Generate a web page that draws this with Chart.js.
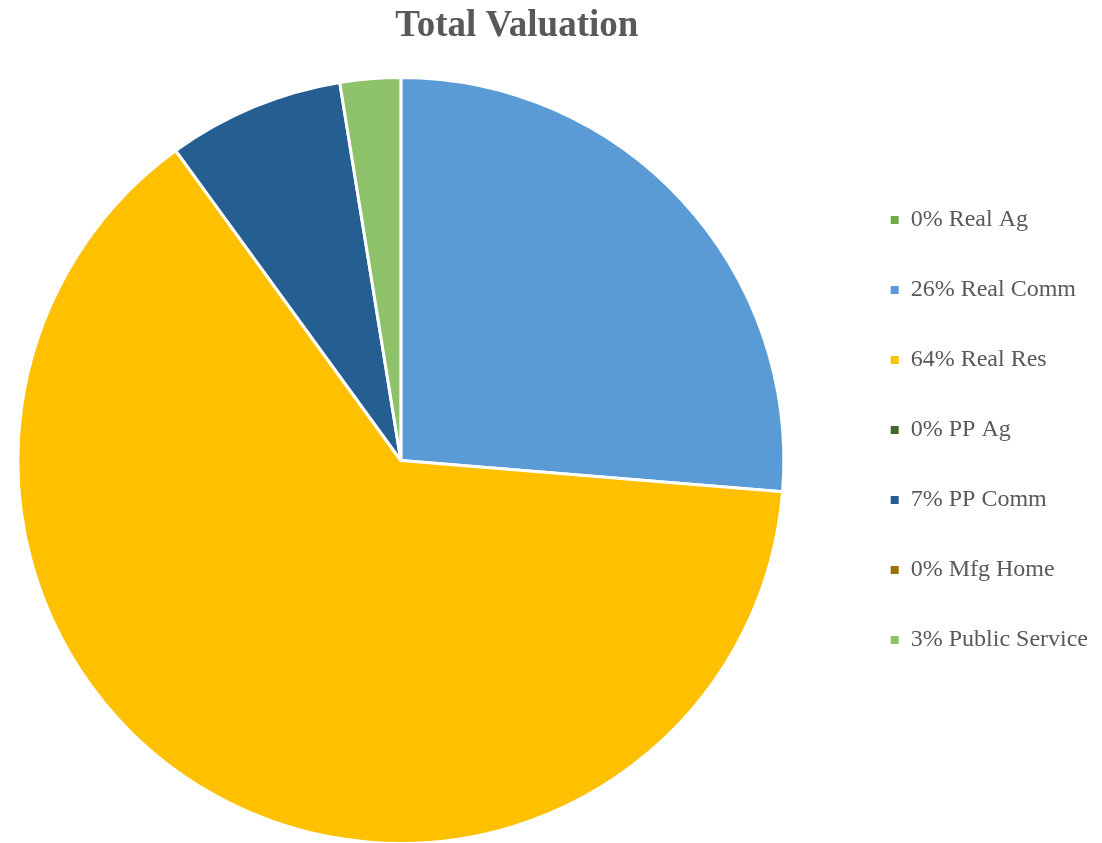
<!DOCTYPE html>
<html>
<head>
<meta charset="utf-8">
<title>Total Valuation</title>
<script src="https://cdn.jsdelivr.net/npm/chart.js@4/dist/chart.umd.min.js"></script>
<style>
  html, body { margin: 0; padding: 0; background: #ffffff; }
  #wrap { position: relative; width: 1102px; height: 843px; }
</style>
</head>
<body>
<div id="wrap"><canvas id="chart" width="1102" height="843"></canvas></div>
<script>
// Share of total valuation by property class (percent)
const categories = ['Real Ag', 'Real Comm', 'Real Res', 'PP Ag', 'PP Comm', 'Mfg Home', 'Public Service'];
const shares = [0, 26.3, 63.7, 0, 7.45, 0, 2.55];
const shareLabels = ['0%', '26%', '64%', '0%', '7%', '0%', '3%'];
const sliceColors = ['#70AD47', '#5B9BD5', '#FFC000', '#43682B', '#255E91', '#997300', '#8DC16A'];

const legendNames = categories.map((c, i) => shareLabels[i] + ' ' + c);

// The title stays centred over the whole chart block while the pie itself
// sits further left, next to the legend; move the plot area after layout.
const PIE_SHIFT_X = -116;
const pieShift = {
  id: 'pieShift',
  afterLayout(chart) {
    const area = chart.chartArea;
    area.left += PIE_SHIFT_X;
    area.right += PIE_SHIFT_X;
  }
};

// Solid legend swatches (no white slice border around them)
const pieLegendLabels = (chart) =>
  Chart.overrides.pie.plugins.legend.labels.generateLabels(chart)
    .map(item => Object.assign(item, { lineWidth: 0, hidden: false }));

new Chart(document.getElementById('chart'), {
  type: 'pie',
  data: {
    labels: legendNames,
    datasets: [{
      data: shares,
      backgroundColor: sliceColors,
      borderColor: '#ffffff',
      borderWidth: 3,
      radius: 383,
      clip: false
    }]
  },
  plugins: [pieShift],
  options: {
    responsive: false,
    animation: false,
    layout: { padding: { left: 189, right: 4, top: 0, bottom: 84 } },
    plugins: {
      tooltip: { enabled: false },
      title: {
        display: true,
        fullSize: false,
        text: 'Total Valuation',
        color: '#595959',
        font: { family: '"Liberation Serif", "Times New Roman", serif', size: 37, weight: 'bold' },
        padding: { top: 4, bottom: 113.6 }
      },
      legend: {
        position: 'right',
        align: 'start',
        fullSize: false,
        labels: {
          color: '#595959',
          font: { family: '"Liberation Serif", "Times New Roman", serif', size: 24 },
          boxWidth: 8,
          boxHeight: 8,
          padding: 46,
          generateLabels: pieLegendLabels
        }
      }
    }
  }
});
</script>
</body>
</html>
